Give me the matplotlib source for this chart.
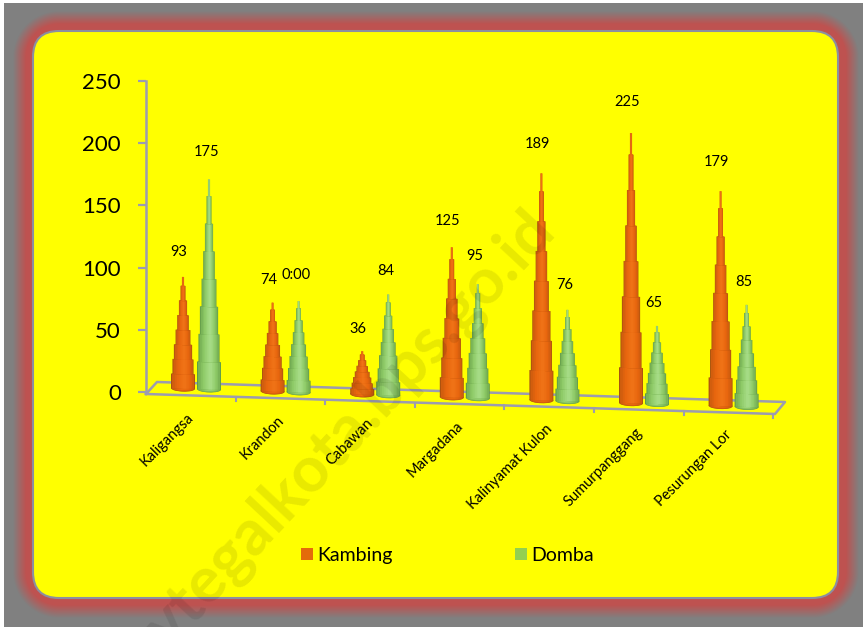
import numpy as np
import matplotlib
matplotlib.use("Agg")
import matplotlib.pyplot as plt
from matplotlib.colors import to_rgb
from matplotlib.patches import FancyBboxPatch, Patch, Ellipse
from matplotlib.lines import Line2D
from matplotlib.transforms import Affine2D

categories = ["Kaligangsa", "Krandon", "Cabawan", "Margadana",
              "Kalinyamat Kulon", "Sumurpanggang", "Pesurungan Lor"]
kambing = [93, 74, 36, 125, 189, 225, 179]
domba = [175, 76, 84, 95, 76, 65, 85]
kambing_labels = ["93", "74", "36", "125", "189", "225", "179"]
domba_labels = ["175", "0:00", "84", "95", "76", "65", "85"]
yticks = [0, 50, 100, 150, 200, 250]

W, H = 863, 627
plt.rcParams['font.family'] = ['Lato', 'DejaVu Sans']
fig = plt.figure(figsize=(W / 100, H / 100), dpi=100, facecolor='white')

# ---- background (pixel coordinates)
bg = fig.add_axes([0, 0, 1, 1], zorder=0)
bg.set_xlim(0, W)
bg.set_ylim(H, 0)
bg.axis('off')
x0, x1, y0, y1, rad = 33, 838, 31, 598, 26
yy, xx = np.mgrid[0:H, 0:W] + 0.5
cx, cy = (x0 + x1) / 2, (y0 + y1) / 2
qx = np.abs(xx - cx) - ((x1 - x0) / 2 - rad)
qy = np.abs(yy - cy) - ((y1 - y0) / 2 - rad)
dist = np.hypot(np.maximum(qx, 0), np.maximum(qy, 0)) + np.minimum(np.maximum(qx, qy), 0) - rad
t = np.clip((dist - 7) / 13, 0, 1)[..., None]
red = np.array([0xBE, 0x52, 0x50]) / 255
gray = np.array([0x80, 0x80, 0x80]) / 255
img = red * (1 - t) + gray * t
img[xx < 4] = 1
img[yy < 3] = 1
bg.imshow(img, extent=(0, W, H, 0), aspect='auto', interpolation='nearest', zorder=0)
bg.add_patch(FancyBboxPatch((x0 + rad, y0 + rad), x1 - x0 - 2 * rad, y1 - y0 - 2 * rad,
                            boxstyle=f"round,pad={rad},rounding_size={rad}",
                            fc='#FFFF00', ec='#8C8FA0', lw=1.5, zorder=1))
# 3-D floor
floor_c = '#9C9CB0'
floor = [(146, 394), (157, 382), (785, 402), (775, 414), (146, 394)]
bg.add_line(Line2D(*zip(*floor), color=floor_c, lw=1.8, zorder=2))
for i in range(1, 8):
    px = 146 + 89.6 * i
    py = 394 + (px - 146) * 20 / 629
    bg.add_line(Line2D([px, px], [py, py + 4], color=floor_c, lw=1.5, zorder=2))

# ---- chart axes
PX = 89.6
SCALE = 311 / 250
ax = fig.add_axes([146 / W, 1 - 392 / H, 639 / W, 311 / H], zorder=2)
ax.patch.set_alpha(0)
ax.set_xlim((146 - 196) / PX, (785 - 196) / PX)
ax.set_ylim(0, 250)
for s in ('top', 'right', 'bottom'):
    ax.spines[s].set_visible(False)
ax.spines['left'].set_color(floor_c)
ax.spines['left'].set_linewidth(1.8)
ax.set_yticks(yticks)
ax.tick_params(axis='y', length=6, width=1.6, color=floor_c, labelsize=16, pad=12, labelcolor='black')
ax.set_xticks([])

skew = Affine2D.from_values(1, -0.0325 * PX / SCALE, 0, 0.965, 0, 3 / SCALE) + ax.transData


def ramp(edge, near, mid, light, n=8):
    e, a, m, l = map(np.array, (to_rgb(edge), to_rgb(near), to_rgb(mid), to_rgb(light)))
    out = [e, a]
    for u in np.linspace(0, 1, n - 2):
        out.append(a + (m - a) * u / 0.4 if u < 0.4 else m + (l - m) * (u - 0.4) / 0.6)
    return out


orange = ramp('#A9520F', '#D25E0E', '#E8660E', '#EF7216')
green = ramp('#5F9A48', '#7AB458', '#8FCB68', '#A5DB85')
tier_w = [1.0, 0.88, 0.76, 0.62, 0.48, 0.34, 0.2]
base_w = 24 / PX
fracs = [1.0, 0.92, 0.84, 0.72, 0.58, 0.44, 0.3, 0.15]


def cone(x, v, cols):
    body = 0.92 * v
    seg = body / len(tier_w)
    for f, c in zip(fracs, cols):
        ax.add_patch(Ellipse((x, 0), base_w * f, 5 * f, fc=c, lw=0, transform=skew, clip_on=False, zorder=3))
    for k, w in enumerate(tier_w):
        low = max(k * seg - 0.4, 0)
        for f, c in zip(fracs, cols):
            ax.bar(x + 0.06 * base_w * w * (1 - f), (k + 1) * seg - low, width=base_w * w * f, bottom=low,
                   color=c, transform=skew, clip_on=False, zorder=3, lw=0)
    for f, c in zip([1.0, 0.45], [cols[3], cols[-1]]):
        ax.bar(x, v - body + 0.4, width=base_w * 0.09 * f, bottom=body - 0.4, color=c,
               transform=skew, clip_on=False, zorder=3, lw=0)


off = 13 / PX
k_lift = [25, 23, 22, 26, 29, 31, 29]
d_lift = [27, 26, 23, 28, 25, 23, 23]
for i, name in enumerate(categories):
    cone(i - off, kambing[i], orange)
    cone(i + off, domba[i], green)
    ax.annotate(kambing_labels[i], (i - off, kambing[i]), xycoords=skew, xytext=(-3, k_lift[i] / 1.389),
                textcoords='offset points', ha='center', va='center', fontsize=10.5, zorder=5)
    ax.annotate(domba_labels[i], (i + off, domba[i]), xycoords=skew, xytext=(-2, d_lift[i] / 1.389),
                textcoords='offset points', ha='center', va='center', fontsize=10.5, zorder=5)
    ax.annotate(name, (i, 0), xycoords=skew, xytext=(-3, -19), textcoords='offset points',
                rotation=45, rotation_mode='anchor', ha='right', va='center', fontsize=10.5, zorder=5)

leg = ax.legend(handles=[Patch(fc='#E46C0A', label='Kambing'), Patch(fc='#92D050', label='Domba')],
                ncol=2, frameon=False, fontsize=14, handlelength=0.62, handleheight=0.62,
                handletextpad=0.2, columnspacing=6.3,
                loc='center left', borderaxespad=0, borderpad=0)
leg.set_bbox_to_anchor((301 / W, 1 - 555.5 / H), transform=fig.transFigure)

# ---- watermark
fig.text(350 / W, 1 - 430 / H, "ytegalkota.bps.go.id", rotation=47, rotation_mode='anchor',
         ha='center', va='center', fontsize=46, fontweight='bold', color='black', alpha=0.09, zorder=10,
         family='Lato')

fig.savefig("out.png", dpi=100)
